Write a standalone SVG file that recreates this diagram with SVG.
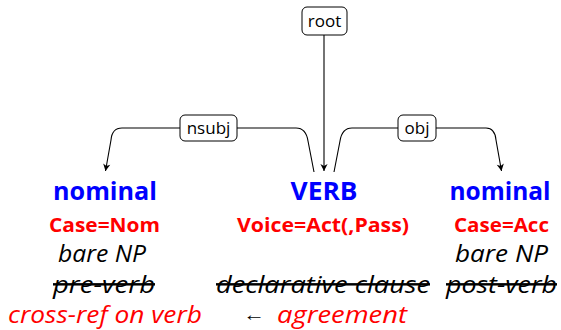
<svg xmlns="http://www.w3.org/2000/svg" width="561" height="330" viewBox="0 0 561 330">
<style>
.lbl{font-family:"Open Sans","Noto Sans",sans-serif;font-size:17px;fill:#000;text-anchor:middle}
.box{fill:#fff;stroke:#000;stroke-width:1}
.edge{fill:none;stroke:#000;stroke-width:1.1}
.t{font-family:"Open Sans","Noto Sans",sans-serif;text-anchor:middle}
.head{font-size:25px;font-weight:bold;fill:#0000ff}
.feat{font-size:20px;font-weight:bold;fill:#ff0000}
.it{font-size:24.5px;font-style:italic;fill:#000}
.strike{text-decoration:line-through}
.red{fill:#ff0000}
</style>
<defs>
<marker id="arr" viewBox="-8 -4 9 8" refX="0" refY="0" markerWidth="9" markerHeight="8" markerUnits="userSpaceOnUse" orient="auto">
<path d="M0,0 L-7,-3.6 L-5,0 L-7,3.6 Z" fill="#000"/>
</marker>
</defs>
<g id="connectors">
<path class="edge" d="M324,35 L324,171" marker-end="url(#arr)"/>
<path class="edge" d="M314,172 L308,141 Q306,128 296,128 L122,128 Q112,128 111,140 L105.5,171" marker-end="url(#arr)"/>
<path class="edge" d="M334,172 L340,141 Q342,128 352,128 L486,128 Q495,128 496,140 L501.5,171" marker-end="url(#arr)"/>
</g>
<g id="root">
<rect class="box" x="302" y="7" width="45" height="28" rx="5"/>
<text class="lbl" x="324.5" y="27">root</text>
</g>
<g id="nsubj">
<rect class="box" x="180" y="115" width="57" height="26" rx="5"/>
<text class="lbl" x="208.5" y="134">nsubj</text>
</g>
<g id="obj">
<rect class="box" x="398" y="115" width="38" height="26" rx="5"/>
<text class="lbl" x="417" y="134">obj</text>
</g>
<g id="subject">
<text class="t head" x="105" y="200" textLength="104" lengthAdjust="spacingAndGlyphs">nominal</text>
<text class="t feat" x="104.5" y="232" textLength="111" lengthAdjust="spacingAndGlyphs">Case=Nom</text>
<text class="t it" x="102" y="262" textLength="88" lengthAdjust="spacingAndGlyphs">bare NP</text>
<text class="t it strike" x="104" y="293" textLength="102" lengthAdjust="spacingAndGlyphs">pre-verb</text>
<text class="t it red" x="105" y="323" textLength="194" lengthAdjust="spacingAndGlyphs">cross-ref on verb</text>
</g>
<g id="verb">
<text class="t head" x="324" y="200" textLength="67" lengthAdjust="spacingAndGlyphs">VERB</text>
<text class="t feat" x="323" y="232" textLength="172" lengthAdjust="spacingAndGlyphs">Voice=Act(,Pass)</text>
<text class="t it strike" x="323" y="293" textLength="214" lengthAdjust="spacingAndGlyphs">declarative clause</text>
<text class="t" x="254" y="321" font-size="19px" fill="#000" textLength="22" lengthAdjust="spacingAndGlyphs">←</text>
<text class="t it red" x="342" y="323" textLength="130" lengthAdjust="spacingAndGlyphs">agreement</text>
</g>
<g id="object">
<text class="t head" x="500" y="200" textLength="101" lengthAdjust="spacingAndGlyphs">nominal</text>
<text class="t feat" x="501.5" y="232" textLength="95" lengthAdjust="spacingAndGlyphs">Case=Acc</text>
<text class="t it" x="501.5" y="262" textLength="93" lengthAdjust="spacingAndGlyphs">bare NP</text>
<text class="t it strike" x="501.5" y="293" textLength="111" lengthAdjust="spacingAndGlyphs">post-verb</text>
</g>
</svg>
